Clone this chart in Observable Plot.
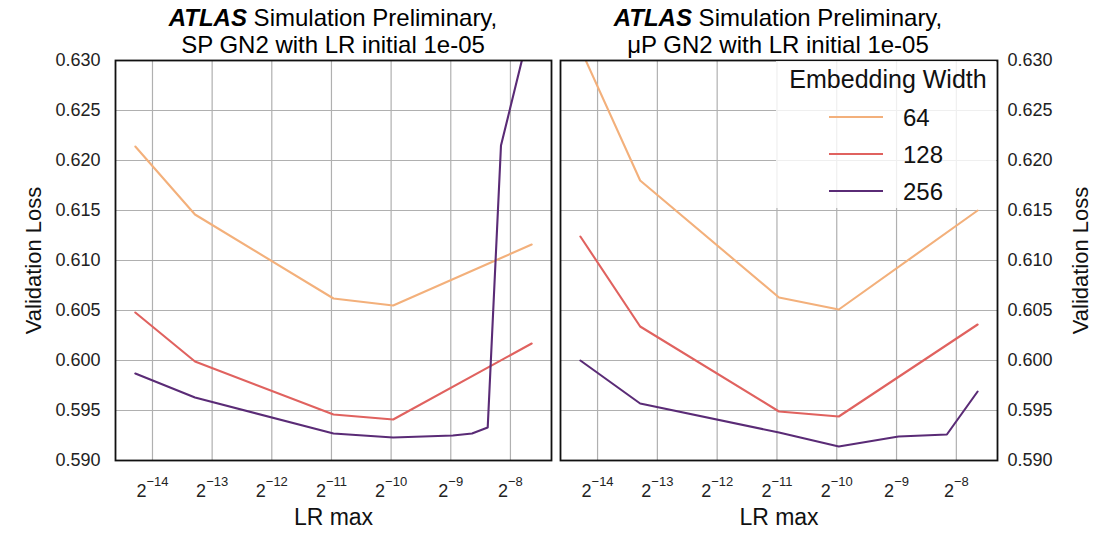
<!DOCTYPE html>
<html>
<head>
<meta charset="utf-8">
<script src="https://cdn.jsdelivr.net/npm/d3@7"></script>
<script src="https://cdn.jsdelivr.net/npm/@observablehq/plot@0.6"></script>
<style>
  body { margin: 0; background: #fff; font-family: "Liberation Sans", Arial, sans-serif; }
  #wrap { position: relative; width: 1115px; height: 533px; overflow: hidden; background: #fff; }
  .title { position: absolute; top: 4px; font-size: 24px; line-height: 27px; text-align: center; white-space: nowrap; color: #000; transform: translateX(-50%); }
  .title b { font-weight: bold; font-style: italic; }
  .panel { position: absolute; top: 0; }
  #legend { position: absolute; left: 776px; top: 61px; }
</style>
</head>
<body>
<div id="wrap"></div>
<script>
// ---- data ----
const widths = ["64", "128", "256"];
const colors = ["#f3b07b", "#e0625f", "#5a2b76"];
const lrMax = [5e-5, 1e-4, 5e-4, 1e-3, 5e-3];

// SP GN2
const sp64 = [0.6214, 0.6146, 0.6062, 0.6055, 0.6116];
const sp128 = [0.6048, 0.5999, 0.5946, 0.5941, 0.6017];
const spLr256 = [5e-5, 1e-4, 5e-4, 1e-3, 2e-3, 2.5e-3, 3e-3, 3.5e-3, 5e-3];
const sp256 = [0.5987, 0.5963, 0.5927, 0.5923, 0.5925, 0.5927, 0.5933, 0.6215, 0.6340];

// muP GN2
const mu64 = [0.6312, 0.6180, 0.6063, 0.6051, 0.6150];
const mu128 = [0.6124, 0.6034, 0.5949, 0.5944, 0.6036];
const muLr256 = [5e-5, 1e-4, 5e-4, 1e-3, 2e-3, 3.5e-3, 5e-3];
const mu256 = [0.6000, 0.5957, 0.5928, 0.5914, 0.5924, 0.5926, 0.5969];

const xTickExps = [-14, -13, -12, -11, -10, -9, -8];
const yTickLabels = ["0.590", "0.595", "0.600", "0.605", "0.610", "0.615", "0.620", "0.625", "0.630"];

// ---- build ----
function rowsOf(xs, ys, w) { return xs.map((x, i) => ({lr: x, loss: ys[i], w})); }
const spRows = [...rowsOf(lrMax, sp64, "64"), ...rowsOf(lrMax, sp128, "128"), ...rowsOf(spLr256, sp256, "256")];
const muRows = [...rowsOf(lrMax, mu64, "64"), ...rowsOf(lrMax, mu128, "128"), ...rowsOf(muLr256, mu256, "256")];

const xTicks = xTickExps.map(e => Math.pow(2, e));
const yTicks = yTickLabels.map(Number);
const lo = Math.log2(d3.min(lrMax)), hi = Math.log2(d3.max(lrMax));
const pad = 0.05 * (hi - lo);
const xDomain = [Math.pow(2, lo - pad), Math.pow(2, hi + pad)];
const FONT = "'Liberation Sans', Arial, sans-serif";
const gridStyle = {stroke: "#b0b0b0", strokeOpacity: 1, strokeWidth: 1.2};

function panel(rows, side, width, marginLeft, marginRight) {
  const chart = Plot.plot({
    width, height: 533,
    marginTop: 60, marginBottom: 73, marginLeft, marginRight,
    style: {background: "transparent", fontFamily: FONT, fontSize: "18px", color: "#222", overflow: "visible"},
    x: {type: "log", base: 2, domain: xDomain},
    y: {domain: [yTicks[0], yTicks[yTicks.length - 1]]},
    color: {type: "ordinal", domain: widths, range: colors},
    marks: [
      Plot.gridX(xTicks, gridStyle),
      Plot.gridY(yTicks, gridStyle),
      Plot.axisX(xTicks, {tickSize: 0, tickPadding: 24, fontSize: 18, label: null,
        tickFormat: d => "2|" + String(Math.round(Math.log2(d))).replace("-", "\u2212")}),
      Plot.axisY(yTicks, {anchor: side, tickSize: 0, tickPadding: side === "left" ? 15 : 10, fontSize: 18,
        label: null, tickFormat: d => d.toFixed(3)}),
      Plot.line(rows, {x: "lr", y: "loss", z: "w", stroke: "w", strokeWidth: 2.1, clip: "frame"}),
      Plot.frame({stroke: "#111", strokeWidth: 1.8}),
      Plot.text(["LR max"], {frameAnchor: "bottom", textAnchor: "middle", lineAnchor: "top", dy: 48, fontSize: 23, fill: "#111"}),
      Plot.text(["Validation Loss"], {frameAnchor: side, textAnchor: "middle", lineAnchor: "middle",
        dx: side === "left" ? -82 : 83, rotate: -90, fontSize: 22, fill: "#111"})
    ]
  });
  // superscript exponents on x tick labels
  chart.querySelectorAll('[aria-label="x-axis tick label"] text').forEach(t => {
    const s = t.textContent;
    if (!s.includes("|")) return;
    const [base, exp] = s.split("|");
    t.textContent = "";
    t.appendChild(document.createTextNode(base));
    const ts = document.createElementNS("http://www.w3.org/2000/svg", "tspan");
    ts.setAttribute("dy", "-11");
    ts.setAttribute("font-size", "13");
    ts.textContent = exp;
    t.appendChild(ts);
  });
  return chart;
}

const wrap = document.getElementById("wrap");

const left = panel(spRows, "left", 556, 115, 5);
left.classList.add("panel"); left.style.left = "0px";
wrap.appendChild(left);

const right = panel(muRows, "right", 559, 4, 118);
right.classList.add("panel"); right.style.left = "556px";
wrap.appendChild(right);

// titles
function addTitle(cx, line2) {
  const d = document.createElement("div");
  d.className = "title";
  d.style.left = cx + "px";
  d.innerHTML = "<b>ATLAS</b> Simulation Preliminary,<br>" + line2;
  wrap.appendChild(d);
}
addTitle(333, "SP GN2 with LR initial 1e-05");
addTitle(778, "\u03bcP GN2 with LR initial 1e-05");

// legend
const NS = "http://www.w3.org/2000/svg";
const lg = document.createElementNS(NS, "svg");
lg.setAttribute("id", "legend");
lg.setAttribute("width", 220); lg.setAttribute("height", 147);
lg.style.fontFamily = FONT;
const bg = document.createElementNS(NS, "rect");
bg.setAttribute("width", 220); bg.setAttribute("height", 147);
bg.setAttribute("fill", "white"); bg.setAttribute("fill-opacity", 0.8);
lg.appendChild(bg);
const lt = document.createElementNS(NS, "text");
lt.setAttribute("x", 112); lt.setAttribute("y", 27);
lt.setAttribute("text-anchor", "middle"); lt.setAttribute("font-size", 25); lt.setAttribute("fill", "#111");
lt.textContent = "Embedding Width";
lg.appendChild(lt);
widths.forEach((w, i) => {
  const ly = 56 + i * 37;
  const ln = document.createElementNS(NS, "line");
  ln.setAttribute("x1", 53); ln.setAttribute("x2", 107);
  ln.setAttribute("y1", ly); ln.setAttribute("y2", ly);
  ln.setAttribute("stroke", colors[i]); ln.setAttribute("stroke-width", 2.1);
  lg.appendChild(ln);
  const tx = document.createElementNS(NS, "text");
  tx.setAttribute("x", 127); tx.setAttribute("y", ly + 8.5);
  tx.setAttribute("font-size", 24); tx.setAttribute("fill", "#111");
  tx.textContent = w;
  lg.appendChild(tx);
});
wrap.appendChild(lg);
</script>
</body>
</html>
